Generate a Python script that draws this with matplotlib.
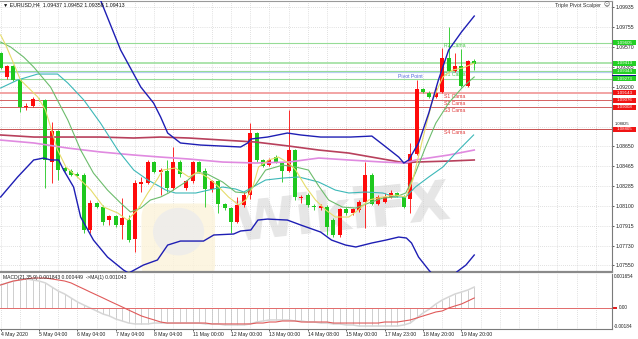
import matplotlib
matplotlib.use("Agg")
import matplotlib.pyplot as plt
from matplotlib.patches import Rectangle, FancyBboxPatch, Ellipse
import numpy as np

plt.rcParams['font.family'] = ['Liberation Sans', 'DejaVu Sans']

# ---------------- data ----------------
opens = [1.09510, 1.09289, 1.09390, 1.09261, 1.09016, 1.09021, 1.09090, 1.09076, 1.08503, 1.08790,
         1.08448, 1.08420, 1.08388, 1.08383, 1.07875, 1.08124, 1.08087, 1.07967, 1.08004, 1.07921,
         1.07967, 1.07792, 1.08304, 1.08309, 1.08503, 1.08411, 1.08420, 1.08263, 1.08503, 1.08263,
         1.08328, 1.08503, 1.08420, 1.08254, 1.08328, 1.08115, 1.08078, 1.07949, 1.08106, 1.08198,
         1.08771, 1.08522, 1.08475, 1.08549, 1.08494, 1.08420, 1.08614, 1.08175, 1.08198, 1.08101,
         1.08078, 1.08087, 1.07967, 1.07829, 1.08069, 1.08032, 1.08060, 1.08134, 1.08383, 1.08115,
         1.08134, 1.08180, 1.08217, 1.08180, 1.08161, 1.08577, 1.09178, 1.09141, 1.09104, 1.09150,
         1.09464, 1.09344, 1.09390, 1.09205, 1.09437]
highs = [1.09520, 1.09399, 1.09399, 1.09270, 1.09048, 1.09104, 1.09099, 1.09085, 1.08873, 1.08799,
         1.08466, 1.08438, 1.08411, 1.08401, 1.08152, 1.08134, 1.08106, 1.08013, 1.08013, 1.08170,
         1.08013, 1.08337, 1.08365, 1.08522, 1.08512, 1.08448, 1.08522, 1.08642, 1.08522, 1.08337,
         1.08512, 1.08512, 1.08448, 1.08337, 1.08337, 1.08124, 1.08087, 1.08180, 1.08226, 1.08863,
         1.08780, 1.08531, 1.08540, 1.08568, 1.08503, 1.08984, 1.08623, 1.08198, 1.08217, 1.08115,
         1.08115, 1.08106, 1.07986, 1.08078, 1.08087, 1.08078, 1.08152, 1.08503, 1.08401, 1.08198,
         1.08217, 1.08244, 1.08226, 1.08198, 1.08679, 1.09261, 1.09187, 1.09159, 1.09215, 1.09556,
         1.09751, 1.09510, 1.09547, 1.09446, 1.09452]
lows = [1.09362, 1.09270, 1.09252, 1.08965, 1.08984, 1.09011, 1.09071, 1.08263, 1.08309, 1.08337,
        1.08411, 1.08374, 1.08365, 1.07847, 1.07847, 1.08078, 1.07921, 1.07921, 1.07902, 1.07792,
        1.07764, 1.07675, 1.08226, 1.08298, 1.08401, 1.08198, 1.08226, 1.08244, 1.08365, 1.08244,
        1.08309, 1.08401, 1.08087, 1.08226, 1.08032, 1.08060, 1.07847, 1.07939, 1.08087, 1.08161,
        1.08503, 1.08457, 1.08466, 1.08494, 1.08318, 1.08411, 1.08152, 1.08124, 1.08087, 1.08060,
        1.08060, 1.07829, 1.07810, 1.07810, 1.08013, 1.08013, 1.08041, 1.07893, 1.08106, 1.08106,
        1.08124, 1.08170, 1.08180, 1.08078, 1.08032, 1.08568, 1.09141, 1.09094, 1.09094, 1.09141,
        1.09335, 1.09335, 1.09196, 1.09196, 1.09358]
closes = [1.09372, 1.09390, 1.09261, 1.09011, 1.09025, 1.09085, 1.09081, 1.08522, 1.08790, 1.08429,
          1.08420, 1.08383, 1.08378, 1.07875, 1.08124, 1.08087, 1.07949, 1.08004, 1.07921, 1.07986,
          1.07782, 1.08309, 1.08314, 1.08503, 1.08411, 1.08429, 1.08263, 1.08503, 1.08392, 1.08328,
          1.08503, 1.08411, 1.08254, 1.08328, 1.08115, 1.08078, 1.07949, 1.08106, 1.08198, 1.08771,
          1.08522, 1.08466, 1.08522, 1.08503, 1.08420, 1.08614, 1.08180, 1.08184, 1.08106, 1.08087,
          1.08096, 1.07902, 1.07829, 1.08069, 1.08032, 1.08069, 1.08134, 1.08383, 1.08115, 1.08180,
          1.08180, 1.08217, 1.08189, 1.08087, 1.08577, 1.09178, 1.09150, 1.09104, 1.09141, 1.09464,
          1.09344, 1.09390, 1.09205, 1.09436, 1.09413]

# indicator lines: (bar position, price)
bb_up_x = [14.4, 15.6, 18.75, 21.9, 23.9, 25.0, 26.1, 28.1, 31.25, 34.4, 37.5, 38.6, 39.1, 41.7, 44.8,
           46.9, 50.0, 54.7, 58.0, 59.4, 60.2, 62.2, 63.0, 63.75, 65.3, 66.9, 68.4, 70.0, 72.0, 74.0]
bb_up_y = [1.10185, 1.10000, 1.09538, 1.09196, 1.09048, 1.08919, 1.08771, 1.08679, 1.08660, 1.08651,
           1.08642, 1.08679, 1.08716, 1.08734, 1.08771, 1.08753, 1.08734, 1.08734, 1.08743, 1.08679,
           1.08642, 1.08549, 1.08494, 1.08522, 1.08679, 1.08956, 1.09261, 1.09538, 1.09704, 1.09852]
bb_lo_x = [0, 2.66, 5.16, 6.72, 7.81, 9.06, 9.84, 11.4, 12.5, 14.5, 16.7, 19.2, 20.0, 22.3, 24.5, 26.1,
           28.1, 31.7, 33.3, 36.4, 37.5, 39.1, 40.2, 41.7, 44.8, 46.9, 50.0, 51.7, 53.9, 55.5, 58.0,
           60.2, 62.2, 63.4, 64.2, 65.3, 66.9, 68.0, 69.5, 70.6, 71.25, 72.7, 74.0]
bb_lo_y = [1.08180, 1.08365, 1.08522, 1.08540, 1.08522, 1.08522, 1.08429, 1.08272, 1.07995, 1.07782,
           1.07625, 1.07505, 1.07477, 1.07551, 1.07598, 1.07736, 1.07773, 1.07773, 1.07829, 1.07838,
           1.07866, 1.07875, 1.07967, 1.07976, 1.07967, 1.07921, 1.07856, 1.07782, 1.07736, 1.07718,
           1.07755, 1.07782, 1.07810, 1.07801, 1.07755, 1.07625, 1.07505, 1.07431, 1.07366, 1.07413,
           1.07487, 1.07551, 1.07644]
teal_x = [0, 2.66, 5.78, 8.9, 10.5, 13.0, 15.6, 18.3, 20.8, 23.0, 25.0, 25.8, 27.3, 30.5, 32.5, 34.7,
          36.7, 38.0, 39.4, 41.4, 44.1, 46.6, 49.7, 52.3, 54.4, 57.0, 59.7, 61.7, 63.3, 64.8, 66.9,
          69.1, 71.1, 73.9]
teal_y = [1.09187, 1.09261, 1.09316, 1.09316, 1.09233, 1.09076, 1.08863, 1.08614, 1.08429, 1.08337,
          1.08272, 1.08244, 1.08217, 1.08217, 1.08244, 1.08272, 1.08254, 1.08226, 1.08272, 1.08337,
          1.08355, 1.08365, 1.08318, 1.08244, 1.08217, 1.08226, 1.08217, 1.08180, 1.08180, 1.08272,
          1.08365, 1.08457, 1.08586, 1.08753]
green_x = [0, 1.56, 3.6, 5.16, 7.8, 10.5, 12.5, 14.5, 16.7, 18.75, 20.3, 21.9, 23.4, 25.0, 26.25,
           28.9, 30.5, 32.0, 34.7, 36.7, 38.3, 39.8, 41.4, 44.1, 46.1, 48.1, 49.7, 51.25, 53.4, 55.5,
           57.5, 59.7, 61.7, 63.3, 64.8, 66.4, 68.0, 70.0, 72.2, 74.0]
green_y = [1.09612, 1.09566, 1.09473, 1.09381, 1.09196, 1.08891, 1.08614, 1.08401, 1.08244, 1.08124,
           1.08041, 1.08078, 1.08152, 1.08180, 1.08217, 1.08318, 1.08401, 1.08401, 1.08318, 1.08226,
           1.08217, 1.08291, 1.08429, 1.08475, 1.08457, 1.08429, 1.08281, 1.08152, 1.08087, 1.08078,
           1.08124, 1.08170, 1.08180, 1.08217, 1.08401, 1.08642, 1.08863, 1.09048, 1.09196, 1.09289]
yellow_x = [0, 0.8, 2.0, 3.1, 4.7, 5.8, 7.0, 7.8, 8.9, 10.2, 12.0, 14.1, 16.1, 18.3, 19.8, 21.4, 23.0,
            24.5, 25.3, 27.3, 29.4, 30.9, 32.5, 34.1, 35.6, 37.2, 38.3, 39.4, 40.3, 41.9, 43.4, 45.0,
            46.1, 47.7, 49.2, 50.8, 52.3, 54.4, 55.9, 57.5, 59.7, 61.7, 63.3, 64.4, 65.9, 67.5, 69.1,
            70.6, 72.2, 74.0]
yellow_y = [1.09677, 1.09584, 1.09418, 1.09261, 1.09168, 1.09104, 1.08984, 1.08827, 1.08614, 1.08457,
            1.08365, 1.08244, 1.08087, 1.08032, 1.07967, 1.08060, 1.08217, 1.08346, 1.08429, 1.08448,
            1.08365, 1.08411, 1.08355, 1.08272, 1.08180, 1.08106, 1.08152, 1.08272, 1.08457, 1.08522,
            1.08549, 1.08494, 1.08429, 1.08272, 1.08152, 1.08060, 1.07995, 1.07995, 1.08060, 1.08152,
            1.08180, 1.08198, 1.08180, 1.08337, 1.08706, 1.09076, 1.09289, 1.09353, 1.09372, 1.09418]
pink_x = [0, 5.2, 10.5, 15.6, 20.8, 25.0, 29.4, 34.7, 39.8, 45.0, 49.7, 54.4, 59.7, 63.3, 64.8, 70.0, 74.0]
pink_y = [1.08706, 1.08679, 1.08632, 1.08596, 1.08568, 1.08549, 1.08531, 1.08503, 1.08494, 1.08503,
          1.08540, 1.08522, 1.08503, 1.08494, 1.08522, 1.08568, 1.08614]
maroon_x = [0, 5.2, 10.5, 15.6, 20.8, 25.0, 29.4, 34.7, 39.8, 45.0, 49.7, 54.4, 59.7, 63.3, 64.8, 70.0, 74.0]
maroon_y = [1.08753, 1.08734, 1.08734, 1.08734, 1.08725, 1.08734, 1.08725, 1.08706, 1.08688, 1.08651,
            1.08614, 1.08586, 1.08531, 1.08494, 1.08503, 1.08512, 1.08522]

# pivot levels
pivot_level = 1.09335
r_levels = [1.09605, 1.09415, 1.09344, 1.09273]
r_tags = ["1.09605", "1.09413", "1.09344", "1.09273"]
s_levels = [1.09143, 1.09076, 1.09008, 1.08805]
s_tags = ["1.09143", "1.09076", "1.09008", "1.08805"]
s_names = ["S1 Cama", "S2 Cama", "S3 Cama", "S4 Cama"]

# oscillator panel
macd_hist = [0.00202, 0.00220, 0.00237, 0.00246, 0.00255, 0.00246, 0.00237, 0.00220, 0.00184, 0.00149,
             0.00123, 0.00088, 0.00053, 0.00026, 0.00000, -0.00026, -0.00053, -0.00070, -0.00097, -0.00114,
             -0.00132, -0.00140, -0.00140, -0.00140, -0.00132, -0.00132, -0.00132, -0.00132, -0.00132, -0.00132,
             -0.00132, -0.00132, -0.00140, -0.00140, -0.00140, -0.00149, -0.00149, -0.00149, -0.00149, -0.00140,
             -0.00123, -0.00114, -0.00105, -0.00105, -0.00105, -0.00105, -0.00114, -0.00114, -0.00123, -0.00123,
             -0.00132, -0.00132, -0.00140, -0.00140, -0.00149, -0.00149, -0.00158, -0.00158, -0.00158, -0.00158,
             -0.00158, -0.00158, -0.00158, -0.00149, -0.00132, -0.00088, -0.00044, -0.00009, 0.00035, 0.00070,
             0.00097, 0.00123, 0.00140, 0.00158, 0.00184]
macd_signal = [0.00202, 0.00220, 0.00237, 0.00246, 0.00255, 0.00263, 0.00263, 0.00263, 0.00255, 0.00246,
               0.00237, 0.00220, 0.00193, 0.00167, 0.00140, 0.00114, 0.00088, 0.00061, 0.00035, 0.00009,
               -0.00018, -0.00044, -0.00070, -0.00088, -0.00105, -0.00123, -0.00132, -0.00132, -0.00132, -0.00132,
               -0.00132, -0.00132, -0.00132, -0.00140, -0.00140, -0.00140, -0.00140, -0.00140, -0.00140, -0.00140,
               -0.00132, -0.00132, -0.00123, -0.00123, -0.00114, -0.00114, -0.00114, -0.00123, -0.00123, -0.00123,
               -0.00123, -0.00123, -0.00132, -0.00132, -0.00132, -0.00132, -0.00132, -0.00132, -0.00132, -0.00132,
               -0.00123, -0.00123, -0.00123, -0.00114, -0.00105, -0.00088, -0.00070, -0.00053, -0.00035, -0.00026,
               0.00000, 0.00018, 0.00035, 0.00061, 0.00088]

price_ticks = [1.09935, 1.09755, 1.09570, 1.09385, 1.09200, 1.09015, 1.08825, 1.08650, 1.08465,
               1.08285, 1.08100, 1.07915, 1.07730, 1.07550]
hidden_tick_labels = [1.09015, 1.08825]   # covered by the level tags on the price scale
time_pos = [0, 6, 12, 18, 24, 30, 36, 42, 48, 54, 60, 66, 72]
time_labels = ["4 May 2020", "5 May 04:00", "6 May 04:00", "7 May 04:00", "8 May 04:00",
               "11 May 00:00", "12 May 00:00", "13 May 00:00", "14 May 08:00", "15 May 00:00",
               "17 May 23:00", "18 May 20:00", "19 May 20:00"]

title_text = "\u25bc EURUSD,H4  1.09437 1.09452 1.09358 1.09413"
osc_text = "MACD(21,35,9) 0.001843 0.000449  ->MA(1) 0.001043"

# ---------------- layout ----------------
W, H = 638, 339
fig = plt.figure(figsize=(W / 100, H / 100), dpi=100)
fig.patch.set_facecolor("white")

def fpx(x, y):
    return x / W, 1 - y / H

ax = fig.add_axes([0, 1 - 272 / H, 612 / W, 271 / H])
ax2 = fig.add_axes([0, 1 - 329 / H, 612 / W, 55 / H])

XMIN, XMAX = -0.1, 95.525
ax.set_xlim(XMIN, XMAX)
ax.set_ylim(1.07487, 1.09991)
ax2.set_xlim(XMIN, XMAX)
ax2.set_ylim(-0.001844, 0.002985)

GRID = "#c4c4c4"
FS = 3.7
for a in (ax, ax2):
    for k in range(0, 96, 3):
        a.axvline(k, color=GRID, lw=0.5, dashes=(1, 2), zorder=0.1)
    a.spines["left"].set_visible(False)
    a.spines["right"].set_color("#7a7a7a")
    a.spines["right"].set_linewidth(0.8)
    a.set_facecolor("none")

for p in price_ticks:
    ax.axhline(p, color=GRID, lw=0.5, dashes=(1, 2), zorder=0.1)

ax.spines["top"].set_color("#9a9a9a")
ax.spines["top"].set_linewidth(0.8)
ax.spines["bottom"].set_color("#8a8a8a")
ax.spines["bottom"].set_linewidth(1.6)
ax2.spines["top"].set_visible(False)
ax2.spines["bottom"].set_color("#7a7a7a")
ax2.spines["bottom"].set_linewidth(0.8)

ax.yaxis.tick_right()
ax.set_yticks(price_ticks)
ax.set_yticklabels(["" if p in hidden_tick_labels else f"{p:.5f}" for p in price_ticks])
ax.tick_params(axis="y", labelsize=FS, length=1.5, width=0.5, pad=1.2, colors="#202020")
ax.set_xticks([])

ax2.set_yticks([])
ax2.set_xticks(time_pos)
ax2.set_xticklabels(time_labels)
ax2.tick_params(axis="x", labelsize=FS, length=1.5, width=0.5, pad=1.0, colors="#202020")
for t in ax2.get_xticklabels():
    t.set_ha("left")

# ---------------- watermark ----------------
wm = FancyBboxPatch((22.0, 1.07420), 11.5, 0.0070, boxstyle="round,pad=0,rounding_size=1.5",
                    fc="#fcf3da", ec="none", alpha=0.8, zorder=0.2, mutation_aspect=0.0009)
ax.add_patch(wm)
ax.add_patch(Ellipse((27.8, 1.07860), 8.0, 0.0044, fc="#ececec", ec="none", alpha=0.8, zorder=0.25))
ax.text(53.5, 1.0802, "WikiFX", fontsize=40, fontweight="bold", color="#d2d2d2", alpha=0.55,
        family="DejaVu Sans", ha="center", va="center", rotation=6, zorder=0.3)

# ---------------- pivot levels (background objects) ----------------
ax.axhline(pivot_level, color="#b6cef0", lw=1.6, zorder=1)
for lv, w in zip(r_levels, [0.8, 1.1, 0.7, 0.8]):
    ax.axhline(lv, color="#96dc96", lw=w, zorder=1.1)
for lv, col, w in zip(s_levels, ["#f2a4a4", "#d66262", "#d06060", "#c85050"], [1.4, 0.7, 0.7, 0.7]):
    ax.axhline(lv, color=col, lw=w, zorder=1.1)

PX = 6.4
def price_at(y):
    return 1.1 - 0.0000924 * y

ax.text(443 / PX, price_at(45), "R2 Cama", fontsize=FS, color="#4cc44c", ha="left", va="center", zorder=1.5)
ax.text(443 / PX, price_at(74.5), "R1 Cama", fontsize=FS, color="#4cc44c", ha="left", va="center", zorder=1.5)
ax.text(397 / PX, price_at(76), "Pivot Point", fontsize=FS, color="#4e64dc", ha="left", va="center", zorder=1.5)
for lv, nm in zip(s_levels, s_names):
    ax.text(443 / PX, lv - 0.00030, nm, fontsize=FS, color="#e03a3a", ha="left", va="center", zorder=1.5)

# ---------------- candles ----------------
o = np.array(opens); c = np.array(closes); hi = np.array(highs); lo = np.array(lows)
idx = np.arange(len(o))
up = c >= o
cols = np.where(up, "#ff0a0a", "#1ec81e")
ax.vlines(idx, lo, hi, colors=cols, lw=0.6, zorder=3)
body_lo = np.minimum(o, c)
body_h = np.maximum(np.abs(c - o), 0.00007)
ax.bar(idx, body_h, bottom=body_lo, width=0.64, color=cols, linewidth=0, zorder=3.1)

# ---------------- indicator lines ----------------
ax.plot(maroon_x, maroon_y, color="#b8405c", lw=1.2, zorder=4)
ax.plot(pink_x, pink_y, color="#e08ae0", lw=1.2, zorder=4)
ax.plot(teal_x, teal_y, color="#3cb8b8", lw=0.8, zorder=4.1)
ax.plot(green_x, green_y, color="#6cbc6c", lw=0.8, zorder=4.1)
ax.plot(yellow_x, yellow_y, color="#e6dc6a", lw=0.8, zorder=4.2)
ax.plot(bb_up_x, bb_up_y, color="#1e1eb4", lw=1.0, zorder=4.3)
ax.plot(bb_lo_x, bb_lo_y, color="#1e1eb4", lw=1.0, zorder=4.3)

# ---------------- price tags on the axis ----------------
tag_h = 5 * 0.0000924
tx = ax.get_yaxis_transform()
def tag(level, text, fc):
    ax.add_patch(Rectangle((613 / 612, level - tag_h / 2), 23 / 612, tag_h, transform=tx,
                           fc=fc, ec="none", clip_on=False, zorder=10))
    ax.text(624.5 / 612, level, text, transform=tx, fontsize=3.2, color="white",
            ha="center", va="center", clip_on=False, zorder=11)

for lv, t in zip(r_levels, r_tags):
    tag(lv, t, "#24d024")
for lv, t in zip(s_levels, s_tags):
    tag(lv, t, "#f01414")
ax.add_patch(Rectangle((612 / 612, price_at(75.5) - 0.00005), 24 / 612, 0.0001, transform=tx,
                       fc="#10108c", ec="none", clip_on=False, zorder=12))
# price-scale label just above the S4 tag (partly visible in the original)
ax.text(614.5 / 612, price_at(123.6), "1.08825", transform=tx, fontsize=3.0, color="#202020",
        ha="left", va="center", clip_on=False, zorder=9)

# ---------------- oscillator ----------------
ax2.vlines(idx, 0, macd_hist, colors="#c6c6c6", lw=0.6, zorder=2)
ax2.plot(idx, macd_hist, color="#d6d6d6", lw=1.1, zorder=2.1)
ax2.axhline(0, color="#e26a6a", lw=0.7, zorder=2.2)
ax2.plot(idx, macd_signal, color="#e05a5a", lw=0.8, zorder=3)

ty = ax2.get_yaxis_transform()
ax2.text(614 / 612, 0.002780, "0.001654", transform=ty, fontsize=3.4, color="#202020",
         ha="left", va="center", clip_on=False)
ax2.text(619 / 612, 0.0, "0.00", transform=ty, fontsize=3.4, color="#202020",
         ha="left", va="center", clip_on=False)
ax2.add_patch(Rectangle((613 / 612, -0.00013), 4 / 612, 0.00026, transform=ty,
                        fc="#e02020", ec="none", clip_on=False, zorder=10))
ax2.text(614 / 612, -0.00166, "-0.00184", transform=ty, fontsize=3.4, color="#202020",
         ha="left", va="center", clip_on=False)

# ---------------- texts ----------------
x0, y0 = fpx(3, 4.5)
fig.text(x0, y0, title_text, fontsize=3.8, color="#101010", ha="left", va="center")
x1, y1 = fpx(601, 5)
fig.text(x1, y1, "Triple Pivot Scalper", fontsize=3.8, color="#303030", ha="right", va="center")
x2, y2 = fpx(606.5, 5)
fig.text(x2, y2, "\u263a", fontsize=4.2, color="#404040", ha="center", va="center",
         family=["DejaVu Sans"])
x3, y3 = fpx(3, 278)
fig.text(x3, y3, osc_text, fontsize=3.6, color="#202020", ha="left", va="center")

fig.savefig("out.png", dpi=100, facecolor="white")
